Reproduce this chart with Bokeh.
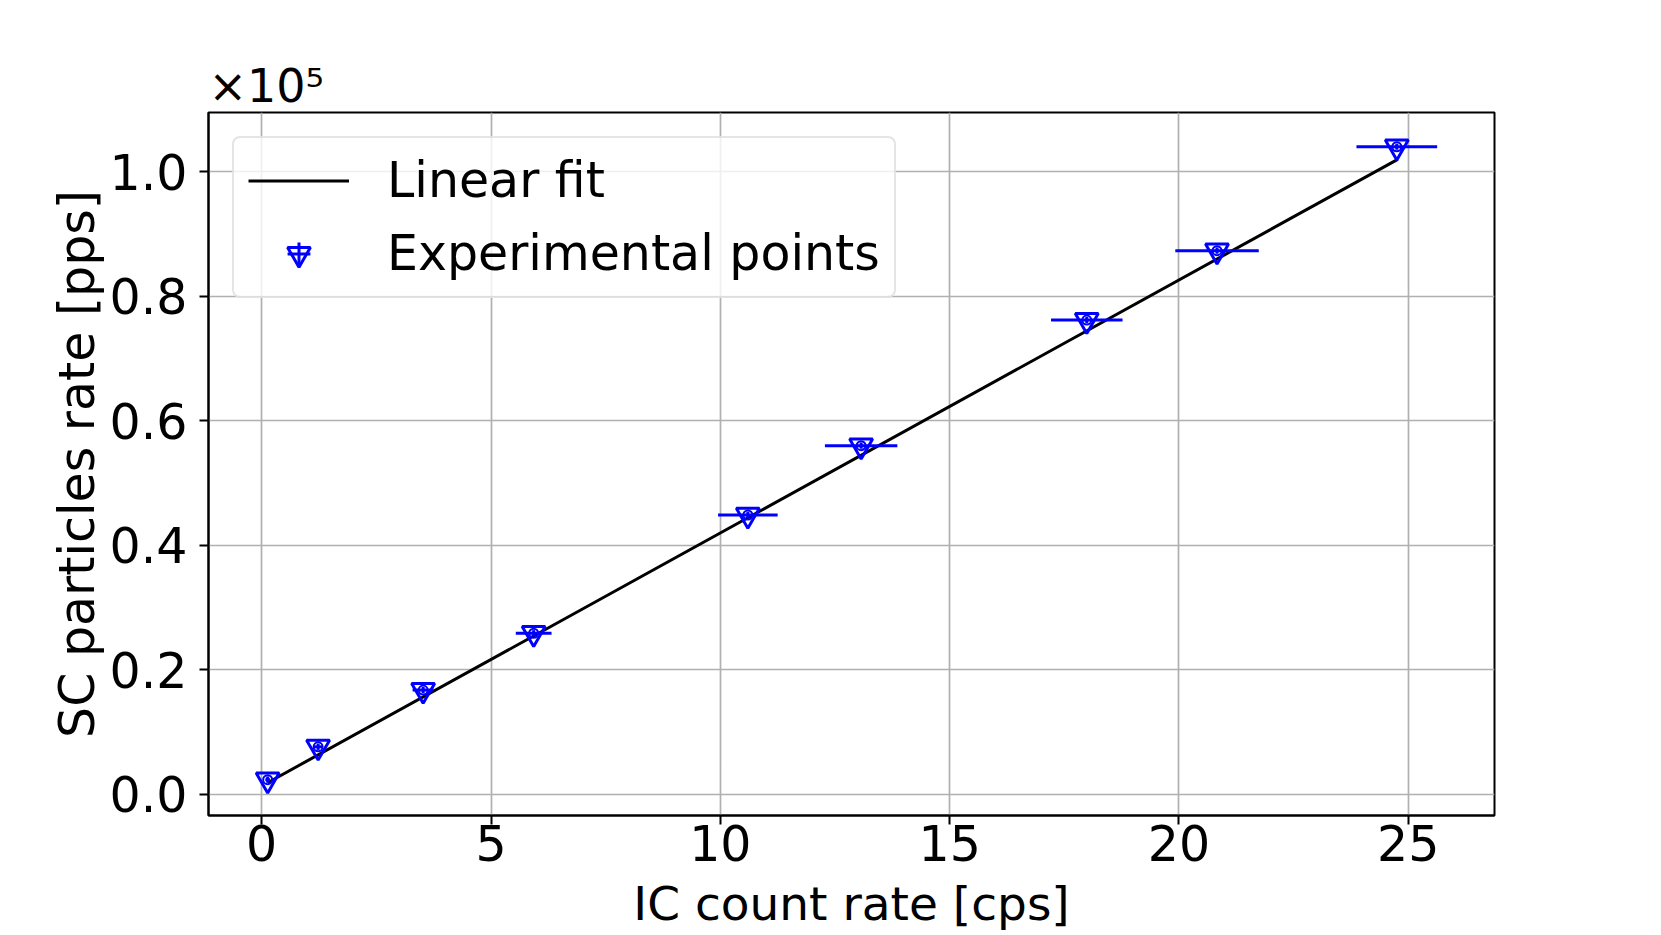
from bokeh.plotting import figure
from bokeh.models import (ColumnDataSource, Range1d, FixedTicker, PrintfTickFormatter,
                          Legend, LegendItem)
from bokeh.embed import file_html
from bokeh.resources import INLINE

# ---- data ----
ic_rate = [0.13, 1.23, 3.52, 5.93, 10.60, 13.07, 17.99, 20.83, 24.75]      # IC count rate [cps]
ic_err = [0.05, 0.10, 0.23, 0.39, 0.65, 0.79, 0.78, 0.91, 0.88]            # x error [cps]
sc_rate = [2350, 7630, 16750, 25870, 44860, 56000, 76160, 87300, 104000]   # SC particles rate [pps]
sc_err = [500, 500, 500, 500, 500, 500, 500, 500, 500]                     # y error [pps]
fit_slope = 4063.0       # pps per cps
fit_intercept = 1340.0   # pps
fit_x = [0.13, 24.77]
y_scale = 1e5
x_ticks = [0, 5, 10, 15, 20, 25]
y_ticks = [0.0, 0.2, 0.4, 0.6, 0.8, 1.0]

FONT = "DejaVu Sans"
BLUE = "#0000ff"
FH = 703

ys = [v / y_scale for v in sc_rate]
src = ColumnDataSource(dict(
    x=ic_rate, y=ys,
    xlo=[x - e for x, e in zip(ic_rate, ic_err)],
    xhi=[x + e for x, e in zip(ic_rate, ic_err)],
    ylo=[(v - e) / y_scale for v, e in zip(sc_rate, sc_err)],
    yhi=[(v + e) / y_scale for v, e in zip(sc_rate, sc_err)],
))
fit_src = ColumnDataSource(dict(
    x=fit_x, y=[(fit_intercept + fit_slope * x) / y_scale for x in fit_x]))

p = figure(frame_width=1286, frame_height=FH,
           min_border_left=208, min_border_right=150, min_border_top=112, min_border_bottom=0,
           x_range=Range1d(-1.16, 26.88), y_range=Range1d(-0.034, 1.095),
           output_backend="svg", toolbar_location=None)

p.background_fill_color = "white"
p.border_fill_color = "white"
p.outline_line_color = "black"
p.outline_line_width = 2

# offset text (x10^5) as the title, left-aligned over the frame
p.title.text = "×10⁵"
p.title.text_font = FONT
p.title.text_font_size = "46px"
p.title.text_font_style = "normal"
p.title.text_color = "black"
p.title.align = "left"
p.title.vertical_align = "bottom"
p.title.standoff = 0
p.title.offset = 0

for ax in (p.xaxis, p.yaxis):
    ax.axis_line_width = 2
    ax.axis_line_color = "black"
    ax.major_tick_line_width = 2
    ax.major_tick_line_color = "black"
    ax.major_tick_out = 9
    ax.major_tick_in = 0
    ax.minor_tick_line_color = None
    ax.major_label_text_font = FONT
    ax.major_label_text_font_size = "49px"
    ax.major_label_text_color = "black"
    ax.axis_label_text_font = FONT
    ax.axis_label_text_font_style = "normal"
    ax.axis_label_text_color = "black"

p.xaxis.ticker = FixedTicker(ticks=x_ticks)
p.yaxis.ticker = FixedTicker(ticks=y_ticks)
p.yaxis.formatter = PrintfTickFormatter(format="%.1f")
p.xaxis.axis_label = "IC count rate [cps]"
p.yaxis.axis_label = "SC particles rate [pps]"
p.xaxis.axis_label_text_font_size = "47px"
p.yaxis.axis_label_text_font_size = "49px"
p.xaxis.major_label_standoff = 0
p.xaxis.axis_label_standoff = 12
p.yaxis.major_label_standoff = 12
p.yaxis.axis_label_standoff = 1

p.xgrid.grid_line_color = "#b0b0b0"
p.ygrid.grid_line_color = "#b0b0b0"
p.xgrid.grid_line_width = 1.7
p.ygrid.grid_line_width = 1.7

# linear fit
fit_r = p.line("x", "y", source=fit_src, line_color="black", line_width=3)

# error bars
p.segment("xlo", "y", "xhi", "y", source=src, line_color=BLUE, line_width=3)
p.segment("x", "ylo", "x", "yhi", source=src, line_color=BLUE, line_width=3)

# markers
tri_r = p.scatter("x", "y", source=src, marker="inverted_triangle", size=23,
                  fill_color=None, line_color=BLUE, line_width=3)
p.scatter("x", "y", source=src, marker="circle", size=9,
          fill_color=None, line_color=BLUE, line_width=2)
p.scatter("x", "y", source=src, marker="circle", size=3,
          fill_color=BLUE, line_color=BLUE, line_width=1)
# legend-only error-bar sample (zero size on the plot)
cross_r = p.scatter("x", "y", source=src, marker="cross", size=0,
                    line_color=BLUE, line_width=3)

legend = Legend(items=[
    LegendItem(label="Linear fit", renderers=[fit_r]),
    LegendItem(label="Experimental points", renderers=[cross_r, tri_r]),
], location="top_left", margin=24, padding=14, spacing=16,
    glyph_width=101, glyph_height=57, label_standoff=38,
    label_text_font=FONT, label_text_font_size="49px", label_text_color="black",
    border_line_color="#cccccc", border_line_width=2, border_radius=8,
    background_fill_color="white", background_fill_alpha=0.8)
p.add_layout(legend)

open("out.html", "w").write(file_html(p, INLINE))
